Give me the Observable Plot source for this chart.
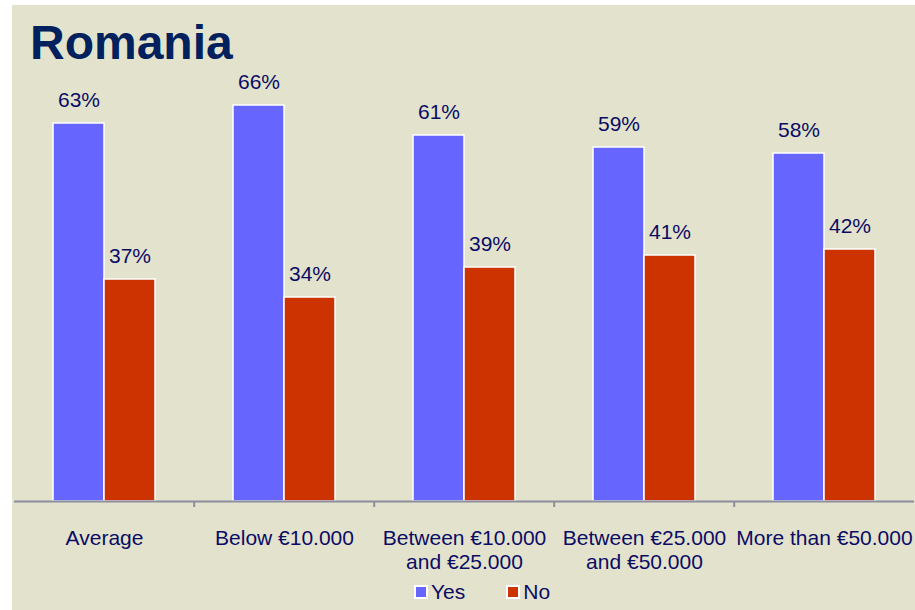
<!DOCTYPE html>
<html>
<head>
<meta charset="utf-8">
<script src="https://cdn.jsdelivr.net/npm/d3@7"></script>
<script src="https://cdn.jsdelivr.net/npm/@observablehq/plot@0.6"></script>
<style>
  html, body { margin: 0; padding: 0; background: #ffffff; }
  #panel { position: absolute; left: 12px; top: 5px; width: 903px; height: 605px; background: #e3e3cd; overflow: hidden;
           font-family: "Liberation Sans", Arial, sans-serif; }
  #title { position: absolute; left: 18px; top: 14px; margin: 0; font-size: 48px; line-height: 48px; font-weight: bold; color: #00215e; }
  #chart { position: absolute; left: 0; top: 0; }
  #legend { position: absolute; left: 403px; top: 570px; }
  .lg-swatch { margin-right: 42px !important; }
  .lg-swatch > svg { margin-right: 4px !important; }
  .lg-swatch svg rect { stroke: #ffffff; stroke-width: 2px; }
</style>
</head>
<body>
<div id="panel">
  <div id="chart"></div>
  <h1 id="title">Romania</h1>
  <div id="legend"></div>
</div>
<script>
const categories = ["Average", "Below €10.000", "Between €10.000 and €25.000", "Between €25.000 and €50.000", "More than €50.000"];
const tickLabels = ["Average", "Below €10.000", "Between €10.000\nand €25.000", "Between €25.000\nand €50.000", "More than €50.000"];
const series = ["Yes", "No"];
const yesValues = [63, 66, 61, 59, 58];
const noValues = [37, 34, 39, 41, 42];
const seriesColors = ["#6666ff", "#cc3300"];

const data = categories.flatMap((c, i) => [
  {group: c, series: "Yes", value: yesValues[i]},
  {group: c, series: "No", value: noValues[i]}
]);

const W = 903, H = 576, mL = 0, mR = 0, mT = 76, mB = 80;
const bandW = (W - mL - mR) / categories.length;
const textColor = "#0b0b66";
const axisColor = "#8b8e9e";
const font = "'Liberation Sans', Arial, sans-serif";

const chart = Plot.plot({
  width: W, height: H,
  marginLeft: mL, marginRight: mR, marginTop: mT, marginBottom: mB,
  style: {background: "transparent", fontFamily: font, color: textColor, overflow: "visible"},
  fx: {domain: categories, padding: 0},
  x: {domain: series, paddingInner: 0, paddingOuter: 0.74, axis: null},
  y: {domain: [0, 70], axis: null},
  color: {domain: series, range: seriesColors},
  marks: [
    Plot.barY(data, {fx: "group", x: "series", y: "value", fill: "series", stroke: "#ffffff", strokeWidth: 1.5}),
    Plot.ruleY([0], {stroke: axisColor, strokeWidth: 2}),
    Plot.ruleX(categories.slice(1), {fx: d => d, x: null, y1: 0, y2: 0, insetBottom: -6, dx: -bandW / 2, stroke: axisColor, strokeWidth: 2}),
    Plot.text(data, {fx: "group", x: "series", y: "value", text: d => d.value + "%", dy: -23, lineAnchor: "middle", fontSize: 21, fill: textColor}),
    Plot.axisFx({anchor: "bottom", tickSize: 0, tickPadding: 26, fontSize: 21, lineHeight: 24 / 21, fill: textColor, label: null,
      tickFormat: d => tickLabels[categories.indexOf(d)]})
  ]
});
document.getElementById("chart").appendChild(chart);

const legend = Plot.legend({
  color: {domain: series, range: seriesColors},
  swatchSize: 12,
  className: "lg",
  style: {fontSize: "21px", fontFamily: font, color: textColor, background: "transparent", margin: "0"}
});
document.getElementById("legend").appendChild(legend);
</script>
</body>
</html>
